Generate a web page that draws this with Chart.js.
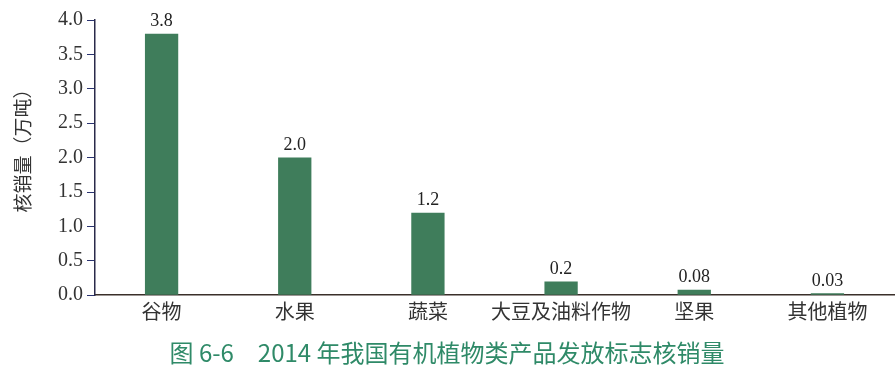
<!DOCTYPE html>
<html>
<head>
<meta charset="utf-8">
<script src="https://cdn.jsdelivr.net/npm/chart.js@4"></script>
<style>
  html, body { margin: 0; padding: 0; background: #fff; }
  #wrap { width: 896px; height: 371px; }
</style>
</head>
<body>
<div id="wrap"><canvas id="bar"></canvas></div>
<script>
const categories = ['谷物', '水果', '蔬菜', '大豆及油料作物', '坚果', '其他植物'];
const values = [3.8, 2.0, 1.2, 0.2, 0.08, 0.03];
const valueLabels = ['3.8', '2.0', '1.2', '0.2', '0.08', '0.03'];
const yTitle = '核销量（万吨）';

const serif = '"Liberation Serif", "Noto Sans CJK SC", serif';
const cjk = '"Liberation Serif", "Noto Sans CJK SC", sans-serif';

// value labels above bars + rotated y axis title
const barLabels = {
    id: 'barLabels',
    afterDatasetsDraw(chart) {
        const ctx = chart.ctx;
        const meta = chart.getDatasetMeta(0);
        ctx.save();
        ctx.font = '18px ' + serif;
        ctx.fillStyle = '#222';
        ctx.textAlign = 'center';
        ctx.textBaseline = 'bottom';
        meta.data.forEach((bar, i) => {
            ctx.fillText(valueLabels[i], bar.x, bar.y - 3);
        });
        ctx.restore();

        ctx.save();
        ctx.translate(25, 146);
        ctx.rotate(-Math.PI / 2);
        ctx.font = '19px ' + cjk;
        ctx.fillStyle = '#333';
        ctx.textAlign = 'center';
        ctx.textBaseline = 'middle';
        ctx.fillText(yTitle, 0, 0);
        ctx.restore();
    }
};

const bar = document.getElementById('bar');

let barChart = new Chart(bar, {
    type: 'bar',
    data: {
        labels: categories,
        datasets: [{
            label: '核销量',
            data: values,
            backgroundColor: '#3f7d5b',
            barPercentage: 0.25,
            categoryPercentage: 1.0
        }]
    },
    options: {
        responsive: true,
        maintainAspectRatio: false,
        animation: false,
        layout: {
            padding: { top: 20, right: 2, bottom: 2, left: 0 }
        },
        plugins: {
            legend: { display: false },
            tooltip: { enabled: false },
            title: {
                display: true,
                position: 'bottom',
                text: '图 6-6　2014 年我国有机植物类产品发放标志核销量',
                color: '#2f8a68',
                font: { family: '"Noto Sans CJK SC", sans-serif', size: 24, weight: 'normal' },
                padding: { top: 3, bottom: 2 }
            }
        },
        scales: {
            x: {
                grid: { display: false, drawTicks: false },
                border: { display: true, color: '#3a2f2a', width: 1.5 },
                ticks: {
                    color: '#333',
                    padding: 7,
                    autoSkip: false,
                    minRotation: 0,
                    maxRotation: 0,
                    font: { family: cjk, size: 20 }
                },
                afterFit(scale) { scale.height = 40; }
            },
            y: {
                min: 0,
                max: 4.0,
                ticks: {
                    stepSize: 0.5,
                    color: '#333',
                    padding: 4,
                    font: { family: serif, size: 20 },
                    callback: (v) => v.toFixed(1)
                },
                grid: {
                    display: true,
                    drawOnChartArea: false,
                    drawTicks: true,
                    tickLength: 8,
                    color: '#2a3370'
                },
                border: { display: true, color: '#2a2a4a', width: 1.5 },
                afterFit(scale) { scale.width = 95; }
            }
        }
    },
    plugins: [barLabels]
});
</script>
</body>
</html>
